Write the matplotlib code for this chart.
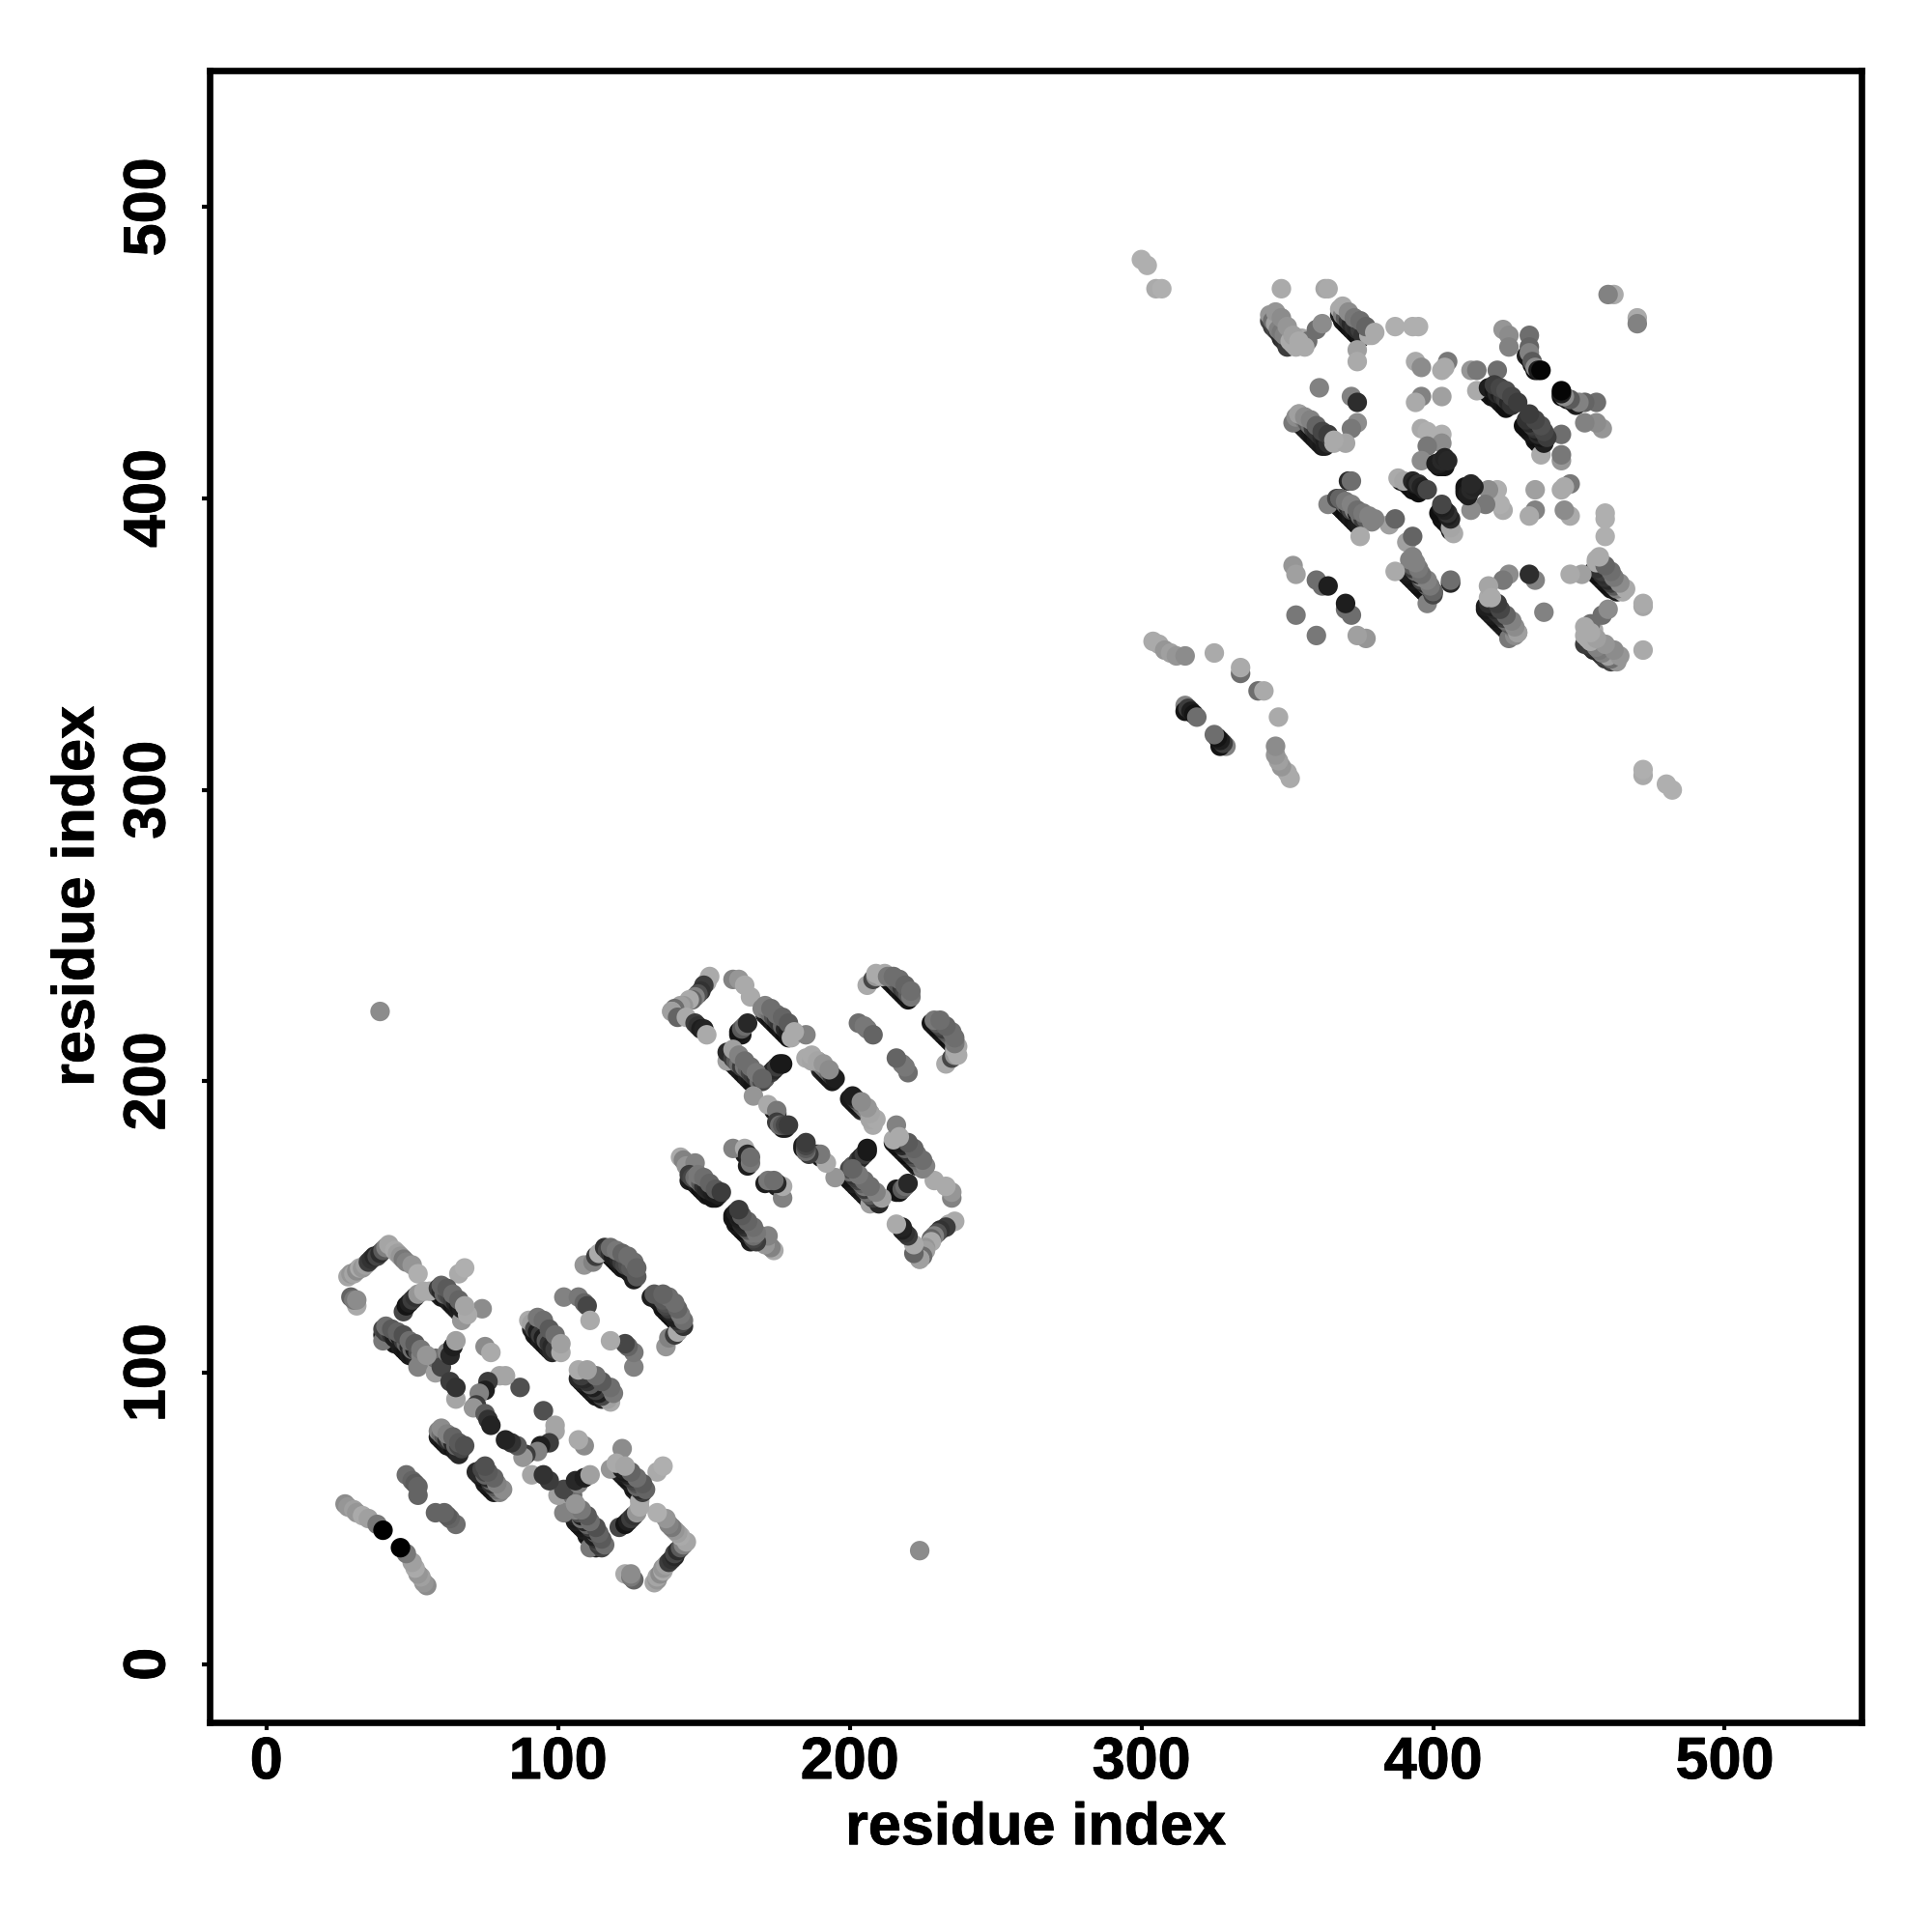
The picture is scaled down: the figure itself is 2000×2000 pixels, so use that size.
import matplotlib
matplotlib.use("Agg")
import matplotlib.pyplot as plt
import matplotlib.patheffects as pe

plt.rcParams['font.family'] = ['Liberation Sans', 'DejaVu Sans']

tick_values = [0, 100, 200, 300, 400, 500]
axis_label = "residue index"

# contacts above the diagonal, read strand by strand; the map is symmetric
res_i = [
    39,
    # domain 1
    28, 29, 30, 31, 32, 33, 34, 35, 36, 37, 38, 39, 40, 41, 42,
    44, 45, 46, 47, 48, 50, 52,
    31, 29, 30, 31,
    47, 48, 49, 50, 51, 52, 54, 56,
    67, 74, 59, 60, 61, 62, 63, 64, 65, 66, 67, 69,
    66, 68,
    40, 40, 41, 42, 43, 44, 45, 46, 47, 48, 49, 50, 51, 52, 53, 55, 52,
    58, 58, 60, 62, 63, 64, 65,
    65, 63, 65,
    87, 82, 80, 76, 75, 73, 72, 71, 75, 76, 77,
    75, 77,
    59, 60, 61, 62, 63, 64, 65, 66, 67,
    48, 50, 51, 52, 52,
    27, 28, 30, 31, 33, 35, 38, 40,
    102, 107, 109, 110, 111,
    90, 94, 91, 92, 93, 94, 95, 96, 97, 98, 99, 100, 101,
    109, 112, 113, 114, 116, 117, 118, 119, 120, 121, 122, 123, 124, 125, 127,
    # domain 1, second half
    152, 151, 150, 149, 148, 147, 146, 145, 143, 142, 140, 139,
    139, 141, 144, 147, 148, 149, 150, 151,
    160, 162, 164, 166,
    162, 163, 164, 165,
    170, 172, 173, 174, 175, 176, 177, 178, 179, 180, 185,
    158, 158, 160, 161, 162, 163, 164, 165, 166, 167, 168, 169, 170, 171, 173, 174, 175, 176, 177,
    185, 187, 189, 190, 191, 192, 193, 194, 195,
    167, 172, 175, 175, 176, 177, 178, 179,
    203, 205, 206, 208,
    206, 208, 209, 212, 214, 215, 216, 217, 218, 219, 220, 221,
    142, 143, 144, 147, 145, 146, 147, 148, 149, 150, 151, 152, 153, 154, 155,
    160, 164, 165, 166, 166,
    # domain 2
    300, 302, 305, 307,
    304, 306, 308, 310, 312, 315,
    325, 334, 334,
    315, 315, 316, 317, 318, 319,
    348, 363, 364,
    344, 345, 346, 347, 348, 349, 351, 352, 353, 355, 357, 360, 362,
    368, 369, 370, 371, 372, 373, 374, 375, 376, 378, 379, 374, 374,
    387, 393, 395,
    394, 396, 403, 405, 404,
    413, 415, 422,
    424, 426, 426, 433, 433, 433, 434, 435, 436, 437,
    415, 419, 420, 421, 422, 423, 424, 425, 426, 427,
    396, 394, 403,
    396, 398, 403, 403, 398, 396, 401, 402, 403, 404, 405,
    388, 390, 393, 394, 395, 396, 397, 398,
    361, 372, 374,
    352, 353, 354, 355, 356, 357, 358, 359, 360, 361, 362, 363, 364, 366,
    374, 372, 370,
    371, 372,
    364, 367, 368, 369, 370, 371, 372, 373, 374, 375, 376, 377, 379, 375, 385, 387,
    352, 353, 360, 362, 364, 353,
    462, 460,
]
res_j = [
    224,
    133, 134, 134, 135, 136, 136, 137, 138, 139, 140, 140, 141, 142, 143, 144,
    142, 141, 140, 139, 138, 137, 134,
    123, 126, 125, 125,
    121, 123, 124, 125, 126, 127, 128, 128,
    118, 122, 129, 128, 127, 127, 126, 125, 124, 123, 122, 120,
    134, 136,
    111, 115, 114, 114, 113, 112, 113, 112, 111, 110, 109, 108, 108, 107, 106, 104, 102,
    100, 105, 102, 107, 106, 109, 111,
    91, 97, 95,
    95, 99, 99, 97, 94, 93, 89, 88, 86, 84, 82,
    109, 107,
    80, 79, 78, 77, 77, 76, 75, 75, 74,
    65, 63, 62, 61, 58,
    55, 54, 53, 52, 51, 50, 48, 46,
    126, 126, 124, 123, 118,
    118, 118, 117, 115, 114, 113, 112, 111, 110, 109, 108, 108, 107,
    137, 138, 140, 141, 143, 142, 141, 140, 139, 139, 138, 137, 137, 136, 133,
    236, 234, 233, 231, 230, 229, 228, 228, 226, 226, 225, 224,
    224, 222, 222, 220, 219, 218, 218, 216,
    235, 235, 233, 229,
    217, 218, 219, 220,
    225, 224, 223, 222, 221, 220, 219, 218, 217, 215, 216,
    207, 210, 208, 207, 206, 205, 205, 204, 203, 202, 201, 200, 200, 201, 203, 204, 205, 206, 206,
    208, 207, 207, 206, 205, 204, 203, 202, 201,
    195, 192, 190, 186, 185, 185, 185, 185,
    220, 219, 218, 216,
    233, 235, 236, 237, 236, 235, 234, 233, 232, 231, 230, 229,
    174, 173, 171, 172, 168, 167, 167, 166, 165, 164, 163, 163, 162, 162, 161,
    177, 177, 175, 172, 174,
    482, 480, 472, 472,
    351, 350, 348, 347, 346, 346,
    347, 340, 342,
    329, 327, 328, 327, 326, 325,
    472, 472, 472,
    463, 461, 460, 458, 457, 456, 454, 453, 452, 455, 454, 458, 460,
    465, 463, 462, 461, 460, 459, 458, 458, 456, 456, 456, 451, 447,
    459, 459, 459,
    447, 445, 444, 447, 445,
    444, 444, 444,
    458, 456, 452, 456, 452, 450, 447, 445, 444, 444,
    437, 438, 438, 437, 436, 436, 435, 434, 433, 432,
    435, 433, 435,
    424, 423, 422, 419, 418, 413, 412, 412, 413, 414, 413,
    407, 406, 406, 405, 405, 404, 403, 403,
    438, 435, 433,
    426, 428, 429, 428, 427, 426, 425, 424, 423, 422, 421, 420, 419, 419,
    426, 424, 419,
    406, 406,
    398, 400, 400, 399, 398, 397, 396, 396, 395, 394, 393, 393, 392, 387, 391, 393,
    377, 374, 372, 370, 370, 360,
    470, 470,
]
shade = [
    140,
    165, 150, 165, 140, 170, 150, 160, 60, 50, 40, 70, 45, 90, 130, 165,
    170, 160, 150, 120, 130, 150, 175,
    170, 100, 120, 140,
    70, 20, 30, 60, 50, 150, 170, 170,
    150, 140, 60, 40, 100, 80, 70, 60, 35, 25, 30, 170,
    170, 175,
    120, 70, 60, 70, 50, 30, 90, 30, 60, 100, 40, 110, 30, 80, 130, 160, 130,
    160, 110, 70, 130, 40, 30, 160,
    165, 60, 50,
    80, 165, 165, 60, 30, 130, 60, 150, 90, 50, 35,
    140, 170,
    130, 110, 90, 50, 100, 40, 100, 70, 70,
    110, 100, 90, 100, 100,
    140, 150, 160, 150, 170, 160, 120, 0,
    130, 120, 100, 70, 170,
    170, 130, 160, 70, 30, 60, 30, 90, 50, 40, 60, 60, 170,
    150, 130, 60, 170, 50, 70, 50, 30, 30, 40, 60, 70, 80, 90, 90,
    170, 170, 60, 50, 80, 130, 100, 170, 150, 160, 110, 170,
    160, 100, 170, 60, 50, 30, 35, 170,
    130, 150, 170, 170,
    20, 90, 110, 40,
    130, 120, 110, 80, 60, 50, 100, 40, 30, 170, 130,
    160, 40, 60, 90, 110, 60, 120, 100, 70, 60, 50, 110, 70, 90, 60, 40, 60, 25, 25,
    170, 165, 165, 150, 130, 120, 100, 50, 30,
    150, 170, 120, 60, 110, 90, 70, 60,
    110, 120, 120, 100,
    170, 70, 150, 170, 130, 110, 100, 90, 60, 70, 90, 120,
    170, 130, 150, 130, 60, 70, 110, 120, 90, 50, 40, 35, 30, 25, 30,
    130, 170, 40, 120, 110,
    175, 175, 170, 175,
    170, 170, 150, 160, 150, 140,
    170, 110, 170,
    130, 20, 60, 30, 20, 110,
    170, 165, 170,
    150, 110, 160, 130, 120, 130, 170, 170, 170, 170, 110, 110, 140,
    170, 130, 90, 60, 40, 50, 45, 60, 50, 170, 170, 160, 170,
    175, 175, 175,
    170, 140, 170, 120, 170,
    150, 120, 110,
    150, 140, 130, 110, 100, 130, 90, 140, 30, 5,
    170, 30, 30, 20, 40, 30, 50, 60, 40, 50,
    130, 170, 160,
    170, 175, 175, 140, 120, 140, 30, 30, 40, 35, 40,
    170, 165, 40, 30, 50, 35, 30, 70,
    130, 130, 45,
    120, 140, 160, 130, 120, 90, 110, 60, 50, 50, 40, 30, 45, 170,
    140, 120, 165,
    40, 110,
    130, 70, 30, 60, 100, 40, 70, 130, 30, 110, 60, 90, 130, 170, 160, 100,
    150, 160, 110, 110, 30, 120,
    170, 130,
]

# darker contacts lying under the strands (drawn first)
under_i = [58, 59, 60, 61, 62, 63, 64, 65, 66,
           40, 41, 42, 43, 44, 45, 46, 47, 48, 49, 50, 51, 52,
           118, 119, 120, 121, 122, 123, 124, 125, 126,
           91, 92, 93, 94, 95, 96, 97, 98,
           59, 60, 61, 62, 63, 64, 65, 66,
           171, 172, 173, 174, 175, 176, 177, 178, 179,
           159, 160, 161, 162, 163, 164, 165, 166, 167,
           190, 191, 192, 193, 194,
           213, 214, 215, 216, 217, 218, 219, 220,
           145, 146, 147, 148, 149, 150, 151, 152, 153, 154,
           174, 175, 176, 177, 178, 162, 163, 164, 165,
           368, 369, 370, 371, 372, 373, 374, 375,
           432, 433, 434, 435,
           418, 419, 420, 421, 422, 423, 424, 425,
           353, 354, 355, 356, 357, 358, 359, 360, 361, 362, 363,
           367, 368, 369, 370, 371, 372, 373, 374, 375,
           344, 345, 346, 347, 348, 349, 350,
           389, 391, 392, 393, 394, 395, 402, 403, 404]
under_j = [128, 127, 126, 126, 125, 124, 123, 122, 121,
           113, 112, 112, 111, 110, 110, 109, 108, 107, 106, 106, 105, 104,
           140, 139, 138, 137, 136, 136, 135, 134, 132,
           115, 113, 112, 111, 110, 109, 108, 107,
           78, 77, 76, 75, 75, 74, 73, 72,
           223, 222, 221, 220, 219, 218, 217, 216, 215,
           208, 206, 205, 204, 203, 202, 201, 200, 199,
           204, 203, 202, 201, 200,
           235, 234, 233, 232, 231, 230, 229, 228,
           166, 166, 165, 164, 163, 162, 161, 161, 160, 160,
           190, 189, 185, 184, 184, 216, 216, 175, 171,
           463, 461, 460, 459, 458, 457, 456, 455,
           449, 448, 446, 444,
           437, 436, 435, 435, 434, 433, 432, 431,
           427, 426, 425, 424, 423, 422, 421, 420, 419, 418, 418,
           398, 397, 396, 395, 394, 393, 392, 391, 391,
           461, 459, 458, 457, 455, 454, 452,
           406, 405, 404, 403, 403, 402, 411, 411, 411]
under_shade = [25, 20, 30, 15, 25, 30, 20, 25, 30,
               30, 25, 20, 30, 25, 20, 30, 25, 20, 30, 25, 30, 40,
               20, 25, 15, 20, 25, 15, 20, 25, 30,
               35, 25, 20, 30, 25, 20, 30, 40,
               30, 25, 20, 25, 30, 20, 30, 40,
               30, 25, 20, 25, 15, 20, 25, 15, 20,
               30, 25, 20, 30, 25, 20, 30, 25, 20,
               40, 30, 25, 20, 25,
               30, 25, 20, 15, 25, 20, 15, 20,
               30, 25, 20, 30, 15, 20, 25, 15, 20, 20,
               30, 25, 30, 25, 30, 30, 25, 30, 30,
               30, 25, 20, 15, 20, 25, 15, 20,
               30, 25, 20, 15,
               20, 15, 20, 15, 20, 25, 20, 15,
               40, 35, 30, 25, 30, 25, 20, 25, 30, 25, 30,
               30, 25, 20, 15, 20, 25, 20, 25, 30,
               70, 60, 70, 50, 40, 50, 60,
               30, 15, 20, 15, 20, 15, 20, 25, 20]

# mid-grey contacts lying over the strands (drawn last)
top_i = [60, 62, 64, 66, 68,
         41, 43, 45, 47, 49, 51, 53, 55,
         118, 120, 122, 124, 126, 127,
         93, 95, 97, 99, 101,
         60, 62, 64, 66, 68,
         171, 173, 175, 177, 179, 181,
         160, 162, 164, 166, 168, 170,
         187, 189, 191, 193,
         209, 211, 213, 215, 217, 219, 221,
         148, 150, 152, 154, 156,
         369, 371, 373, 375, 377, 380,
         346, 348, 350, 352, 354, 356,
         421, 423, 425, 427, 429,
         354, 356, 358, 360, 362, 364, 366,
         368, 370, 372, 374, 376, 378, 380]
top_j = [130, 129, 127, 125, 123,
         116, 115, 114, 113, 111, 110, 108, 106,
         143, 142, 141, 140, 138, 136,
         119, 118, 115, 113, 110,
         81, 79, 78, 76, 75,
         226, 225, 223, 222, 220, 217,
         211, 209, 207, 205, 203, 201,
         209, 207, 206, 204,
         237, 236, 236, 236, 235, 233, 231,
         168, 167, 165, 163, 162,
         466, 464, 462, 461, 459, 457,
         464, 462, 459, 456, 454, 452,
         439, 438, 437, 435, 433,
         429, 428, 427, 425, 423, 422, 420,
         400, 399, 398, 396, 395, 394, 393]
top_shade = [100, 90, 110, 100, 165,
             110, 90, 100, 80, 110, 90, 120, 150,
             110, 120, 100, 110, 110, 100,
             120, 110, 90, 110, 160,
             140, 130, 100, 90, 80,
             130, 110, 110, 100, 90, 170,
             160, 130, 110, 110, 120, 100,
             170, 165, 150, 140,
             170, 170, 120, 110, 110, 100, 110,
             120, 110, 100, 90, 60,
             170, 140, 120, 110, 100, 170,
             150, 140, 150, 160, 170, 170,
             60, 70, 80, 70, 60,
             160, 140, 130, 100, 70, 60, 170,
             100, 120, 130, 110, 120, 130, 130]

fig = plt.figure(figsize=(10, 10), dpi=200, facecolor="white")
ax = fig.add_axes([0.1084, 0.1084, 0.8553, 0.8553])

first = under_i + res_i + top_i
second = under_j + res_j + top_j
tones = under_shade + shade + top_shade
xs = first + second
ys = second + first
colours = [(g / 255, g / 255, g / 255) for g in tones + tones]
ax.scatter(xs, ys, s=53, c=colours, linewidths=0, zorder=2)

ax.set_xlim(-19.5, 547)
ax.set_ylim(-20, 547)
ax.set_xticks(tick_values)
ax.set_yticks(tick_values)
ax.tick_params(axis="x", length=3, width=1.5, labelsize=22, pad=2)
ax.tick_params(axis="y", length=3, width=1.5, labelsize=22, pad=9)
stroke = [pe.withStroke(linewidth=0.3, foreground="black")]
for lab in ax.get_xticklabels():
    lab.set_fontweight("bold")
    lab.set_path_effects(stroke)
for lab in ax.get_yticklabels():
    lab.set_fontweight("bold")
    lab.set_rotation(90)
    lab.set_va("center")
    lab.set_path_effects(stroke)
for sp in ax.spines.values():
    sp.set_linewidth(2.4)
ax.set_xlabel(axis_label, fontsize=22, fontweight="bold", labelpad=4, path_effects=stroke)
ax.set_ylabel(axis_label, fontsize=22, fontweight="bold", labelpad=6, path_effects=stroke)

fig.savefig("out.png", dpi=200, facecolor="white")
